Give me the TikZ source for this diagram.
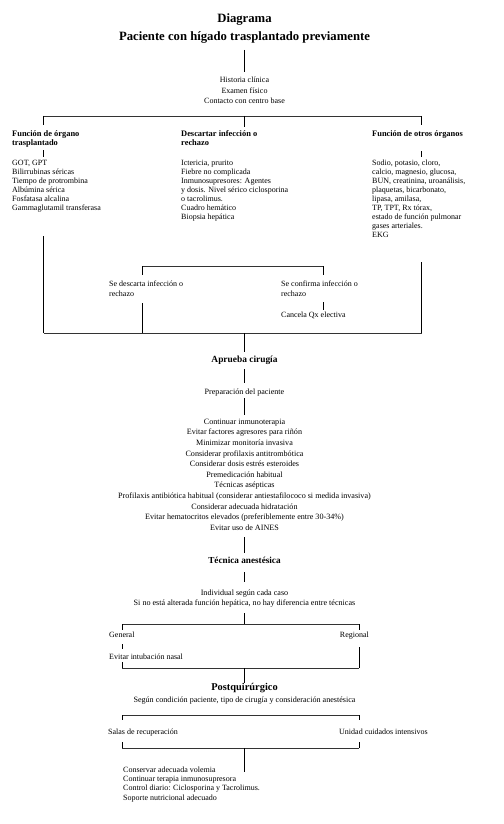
\documentclass[tikz,border=0pt]{standalone}
\usepackage{fontspec}
\setmainfont{Liberation Serif}
\begin{document}
\begin{tikzpicture}[x=1pt,y=-1pt]
\tikzset{
  tt/.style={inner sep=0pt, font=\bfseries\fontsize{12.7}{18}\selectfont, align=center, anchor=north},
  body/.style={inner sep=0pt, font=\fontsize{8}{9}\selectfont, align=left, anchor=north west},
  cbody/.style={inner sep=0pt, font=\fontsize{8.1}{10.4}\selectfont, align=center, anchor=north},
  hd/.style={inner sep=0pt, font=\bfseries\fontsize{8.4}{9.3}\selectfont, align=left, anchor=north west},
  sec/.style={inner sep=0pt, font=\bfseries\fontsize{9.4}{11}\selectfont, anchor=base},
  vl/.style={line width=0.7pt, black},
  hl/.style={line width=0.5pt, black!80},
}
\useasboundingbox (0,0) rectangle (503,824);
\fill[white] (0,0) rectangle (503,824);

% ---------- nodes ----------
\node[tt] (title) at (244.5,13.5) {Diagrama\\Paciente con hígado trasplantado previamente};
\node[cbody, font=\fontsize{8}{10.3}\selectfont] (hist) at (244.5,77.2) {Historia clínica\\Examen físico\\Contacto con centro base};

\node[hd] (fo) at (12,130) {Función de órgano\\trasplantado};
\node[hd] (di) at (181,130) {Descartar infección o\\rechazo};
\node[hd] (fot) at (372,130) {Función de otros órganos};

\node[body] (folist) at (12,160.2) {GOT, GPT\\Bilirrubinas séricas\\Tiempo de protrombina\\Albúmina sérica\\Fosfatasa alcalina\\Gammaglutamil transferasa};
\node[body] (dilist) at (181,160.2) {Ictericia, prurito\\Fiebre no complicada\\Inmunosupresores: Agentes\\y dosis. Nivel sérico ciclosporina\\o tacrolimus.\\Cuadro hemático\\Biopsia hepática};
\node[body] (otlist) at (372,160.2) {Sodio, potasio, cloro,\\calcio, magnesio, glucosa,\\BUN, creatinina, uroanálisis,\\plaquetas, bicarbonato,\\lipasa, amilasa,\\TP, TPT, Rx tórax,\\estado de función pulmonar\\gases arteriales.\\EKG};

\node[body, font=\fontsize{8}{10.3}\selectfont] (desc) at (109,280.3) {Se descarta infección o\\rechazo};
\node[body, font=\fontsize{8}{10.3}\selectfont] (conf) at (281,280.3) {Se confirma infección o\\rechazo};
\node[body, anchor=base west] (canc) at (281,317.5) {Cancela Qx electiva};

\node[sec] (apr) at (244.5,362) {Aprueba cirugía};
\node[cbody, anchor=base] (prep) at (244.5,394) {Preparación del paciente};
\node[cbody, font=\fontsize{8.1}{10.6}\selectfont] (prepl) at (244.5,418.7) {Continuar inmunoterapia\\Evitar factores agresores para riñón\\Minimizar monitoría invasiva\\Considerar profilaxis antitrombótica\\Considerar dosis estrés esteroides\\Premedicación habitual\\Técnicas asépticas\\Profilaxis antibiótica habitual (considerar antiestafilococo si medida invasiva)\\Considerar adecuada hidratación\\Evitar hematocritos elevados (preferiblemente entre 30-34\%)\\Evitar uso de AINES};

\node[sec, font=\bfseries\fontsize{9.2}{11}\selectfont] (tec) at (244.5,563) {Técnica anestésica};
\node[cbody, font=\fontsize{8.1}{10.5}\selectfont] (ind) at (244.5,589.6) {Individual según cada caso\\Si no está alterada función hepática, no hay diferencia entre técnicas};

\node[body, anchor=base west] (gen) at (109,637) {General};
\node[body, anchor=base east] (reg) at (369,637) {Regional};
\node[body, anchor=base west] (evi) at (109,659) {Evitar intubación nasal};

\node[sec, font=\bfseries\fontsize{10.4}{12}\selectfont] (post) at (244.5,690) {Postquirúrgico};
\node[cbody, anchor=base] (seg) at (244.5,702) {Según condición paciente, tipo de cirugía y consideración anestésica};

\node[body, anchor=base west] (sal) at (108,734) {Salas de recuperación};
\node[body, anchor=base west] (uci) at (339,734) {Unidad cuidados intensivos};

\node[body, font=\fontsize{8}{9.3}\selectfont] (postl) at (123,766.6) {Conservar adecuada volemia\\Continuar terapia inmunosupresora\\Control diario: Ciclosporina y Tacrolimus.\\Soporte nutricional adecuado};

% ---------- junction coordinates ----------
\coordinate (t1) at (244.5,50);   \coordinate (t2) at (244.5,72);
\coordinate (aL) at (43.5,116);   \coordinate (aM) at (244.5,116);  \coordinate (aR) at (421.7,116);
\coordinate (aLd) at (43.5,125);  \coordinate (aMd) at (244.5,127); \coordinate (aRd) at (421.7,125);
\coordinate (hL1) at (43.5,150);  \coordinate (hL2) at (43.5,157);
\coordinate (hR1) at (421.7,151); \coordinate (hR2) at (421.7,157);
\coordinate (lL1) at (43.5,236);  \coordinate (bL) at (43.5,333);
\coordinate (lR1) at (421.7,262); \coordinate (bR) at (421.7,333);
\coordinate (bM) at (244.5,333);
\coordinate (iL) at (142,266);    \coordinate (iR) at (323,266);
\coordinate (iLd) at (142,275);   \coordinate (iRd) at (323,275);
\coordinate (c1) at (323,302);    \coordinate (c2) at (323,310);
\coordinate (d1) at (142,303);    \coordinate (d2) at (142,333);
\coordinate (m1) at (244.5,352);
\coordinate (m2) at (244.5,369);  \coordinate (m3) at (244.5,383);
\coordinate (m4) at (244.5,398);  \coordinate (m5) at (244.5,415);
\coordinate (m6) at (244.5,537);  \coordinate (m7) at (244.5,553);
\coordinate (m8) at (244.5,572);  \coordinate (m9) at (244.5,582);
\coordinate (m10) at (244.5,613); \coordinate (gM) at (244.5,624);
\coordinate (gL) at (122,624);    \coordinate (gR) at (359,624);
\coordinate (gLd) at (122,630);   \coordinate (gRd) at (359,630);
\coordinate (e1) at (122,644);    \coordinate (e2) at (122,649);
\coordinate (e3) at (122,662);    \coordinate (kL) at (122,668);
\coordinate (r1) at (359,647);    \coordinate (kR) at (359,668);
\coordinate (kM) at (244.5,668);  \coordinate (m11) at (244.5,683);
\coordinate (pL) at (122,715);    \coordinate (pR) at (359,715);
\coordinate (pLd) at (122,720);   \coordinate (pRd) at (359,720);
\coordinate (qL1) at (122,742);   \coordinate (qR1) at (359,742);
\coordinate (qL) at (122,748.3);  \coordinate (qR) at (359,748.3);
\coordinate (qM) at (244.5,748.3); \coordinate (m12) at (244.5,771.7);

% ---------- connectors ----------
\draw[vl] (t1) -- (t2);
\draw[hl] (aL) -- (aR);
\draw[vl] (aL) -- (aLd);
\draw[vl] (aM) -- (aMd);
\draw[vl] (aR) -- (aRd);
\draw[vl] (hL1) -- (hL2);
\draw[vl] (hR1) -- (hR2);
\draw[vl] (lL1) -- (bL);
\draw[vl] (lR1) -- (bR);
\draw[hl] (bL) -- (bR);
\draw[hl] (iL) -- (iR);
\draw[vl] (iL) -- (iLd);
\draw[vl] (iR) -- (iRd);
\draw[vl] (c1) -- (c2);
\draw[vl] (d1) -- (d2);
\draw[vl] (bM) -- (m1);
\draw[vl] (m2) -- (m3);
\draw[vl] (m4) -- (m5);
\draw[vl] (m6) -- (m7);
\draw[vl] (m8) -- (m9);
\draw[vl] (m10) -- (gM);
\draw[hl] (gL) -- (gR);
\draw[vl] (gL) -- (gLd);
\draw[vl] (gR) -- (gRd);
\draw[vl] (e1) -- (e2);
\draw[vl] (e3) -- (kL);
\draw[vl] (r1) -- (kR);
\draw[hl] (kL) -- (kR);
\draw[vl] (kM) -- (m11);
\draw[hl] (pL) -- (pR);
\draw[vl] (pL) -- (pLd);
\draw[vl] (pR) -- (pRd);
\draw[vl] (qL1) -- (qL);
\draw[vl] (qR1) -- (qR);
\draw[hl] (qL) -- (qR);
\draw[vl] (qM) -- (m12);
\end{tikzpicture}
\end{document}
